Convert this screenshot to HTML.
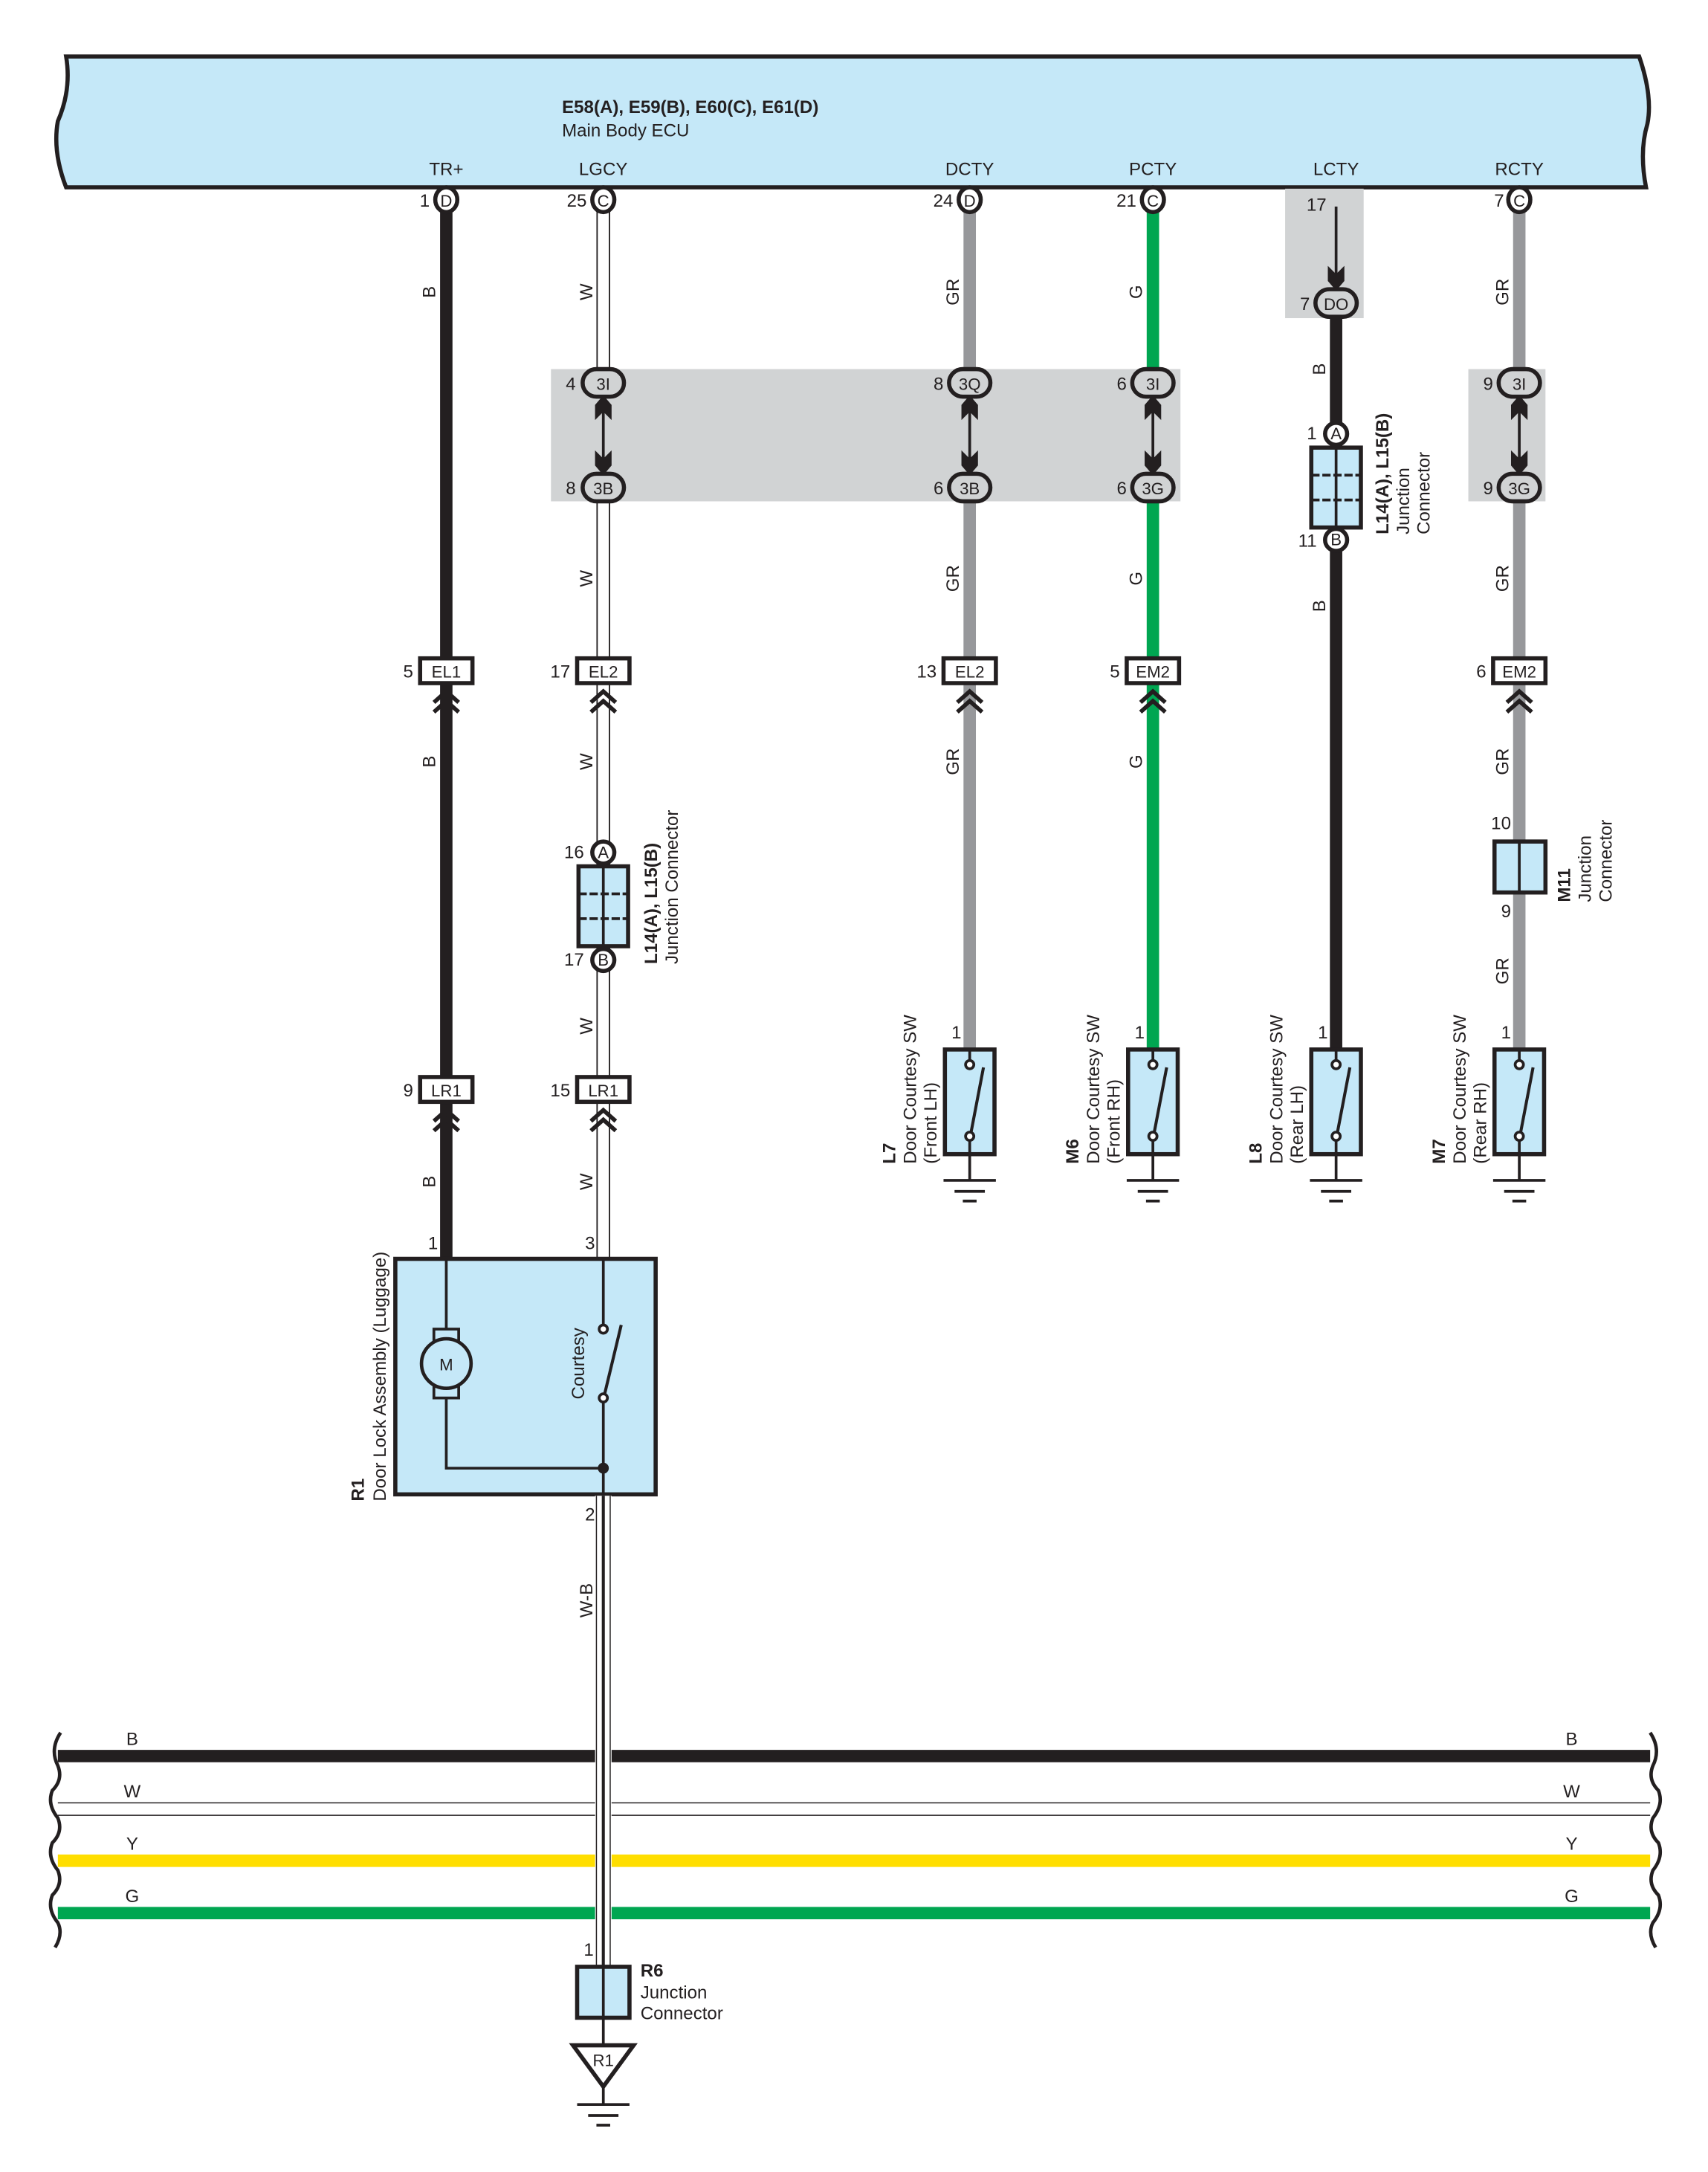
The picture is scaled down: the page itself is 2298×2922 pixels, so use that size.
<!DOCTYPE html>
<html><head><meta charset="utf-8"><style>
html,body{margin:0;padding:0;background:#fff}
svg{display:block}
text{font-family:"Liberation Sans Narrow","Liberation Sans",sans-serif;fill:#231f20}
</style></head><body>
<svg width="2298" height="2922" viewBox="0 0 1240 1577" preserveAspectRatio="none" xmlns="http://www.w3.org/2000/svg">
<defs>
<g id="chev" fill="none" stroke="#231f20" stroke-width="3"><polyline points="-9,7 0,-1 9,7"/><polyline points="-9,14 0,6 9,14"/></g>
<g id="dar"><line x1="0" y1="292" x2="0" y2="340" stroke="#231f20" stroke-width="2"/><polygon points="0,287 -6,294 -6,305 0,299 6,305 6,294" fill="#231f20"/><polygon points="0,345 -6,338 -6,327 0,333 6,327 6,338" fill="#231f20"/></g>
<g id="sw"><rect x="-18" y="0" width="36" height="76" fill="#c5e8f8" stroke="#231f20" stroke-width="3"/><line x1="0" y1="0" x2="0" y2="8" stroke="#231f20" stroke-width="2"/><circle cx="0" cy="11" r="3" fill="#fff" stroke="#231f20" stroke-width="2"/><circle cx="0" cy="63" r="3" fill="#fff" stroke="#231f20" stroke-width="2"/><line x1="1" y1="60" x2="10" y2="13" stroke="#231f20" stroke-width="2.2"/><line x1="0" y1="66" x2="0" y2="95" stroke="#231f20" stroke-width="2"/><line x1="-19" y1="95" x2="19" y2="95" stroke="#231f20" stroke-width="2"/><line x1="-11" y1="103" x2="11" y2="103" stroke="#231f20" stroke-width="2"/><line x1="-5" y1="110" x2="5" y2="110" stroke="#231f20" stroke-width="2"/></g>
<g id="jb"><rect x="-18" y="0" width="36" height="58" fill="#c5e8f8" stroke="#231f20" stroke-width="3"/><line x1="0" y1="0" x2="0" y2="58" stroke="#231f20" stroke-width="2"/><line x1="-18" y1="20" x2="18" y2="20" stroke="#231f20" stroke-width="2" stroke-dasharray="6,2"/><line x1="-18" y1="38" x2="18" y2="38" stroke="#231f20" stroke-width="2" stroke-dasharray="6,2"/></g>
</defs>

<!-- ECU -->
<path d="M48,41 L1190,41 Q1200,70 1196,90 Q1190,110 1195,136 L48,136 Q38,110 42,88 Q52,65 48,41 Z" fill="#c5e8f8" stroke="#231f20" stroke-width="3"/>
<text x="408" y="82" font-size="13" font-weight="bold">E58(A), E59(B), E60(C), E61(D)</text>
<text x="408" y="99" font-size="13">Main Body ECU</text>
<g font-size="13" text-anchor="middle">
<text x="324" y="127">TR+</text><text x="438" y="127">LGCY</text><text x="704" y="127">DCTY</text><text x="837" y="127">PCTY</text><text x="970" y="127">LCTY</text><text x="1103" y="127">RCTY</text>
</g>

<!-- gray areas -->
<rect x="400" y="268" width="457" height="96" fill="#d1d3d4"/>
<rect x="1066" y="268" width="56" height="96" fill="#d1d3d4"/>
<rect x="933" y="137" width="57" height="94" fill="#d1d3d4"/>

<!-- col1 black -->
<line x1="324" y1="150" x2="324" y2="914" stroke="#231f20" stroke-width="9"/>
<!-- col2 white -->
<g>
<line x1="438" y1="150" x2="438" y2="270" stroke="#231f20" stroke-width="10"/>
<line x1="438" y1="150" x2="438" y2="270" stroke="#fff" stroke-width="8"/>
<line x1="438" y1="362" x2="438" y2="914" stroke="#231f20" stroke-width="10"/>
<line x1="438" y1="362" x2="438" y2="914" stroke="#fff" stroke-width="8"/>
</g>
<!-- col3 GR -->
<line x1="704" y1="150" x2="704" y2="270" stroke="#97989b" stroke-width="9"/>
<line x1="704" y1="362" x2="704" y2="764" stroke="#97989b" stroke-width="9"/>
<!-- col4 G -->
<line x1="837" y1="150" x2="837" y2="270" stroke="#00a651" stroke-width="9"/>
<line x1="837" y1="362" x2="837" y2="764" stroke="#00a651" stroke-width="9"/>
<!-- col5 -->
<line x1="970" y1="150" x2="970" y2="200" stroke="#231f20" stroke-width="2"/>
<polygon points="970,211 964,204 964,193 970,199 976,193 976,204" fill="#231f20"/>
<line x1="970" y1="228" x2="970" y2="764" stroke="#231f20" stroke-width="9"/>
<!-- col6 -->
<line x1="1103" y1="150" x2="1103" y2="270" stroke="#97989b" stroke-width="9"/>
<line x1="1103" y1="362" x2="1103" y2="764" stroke="#97989b" stroke-width="9"/>

<!-- top pins -->
<g stroke="#231f20" stroke-width="3" fill="#fff">
<ellipse cx="324" cy="145" rx="8" ry="9"/><ellipse cx="438" cy="145" rx="8" ry="9"/><ellipse cx="704" cy="145" rx="8" ry="9"/><ellipse cx="837" cy="145" rx="8" ry="9"/><ellipse cx="1103" cy="145" rx="8" ry="9"/>
</g>
<g font-size="12" text-anchor="middle">
<text x="324" y="150">D</text><text x="438" y="150">C</text><text x="704" y="150">D</text><text x="837" y="150">C</text><text x="1103" y="150">C</text>
</g>
<g font-size="13" text-anchor="end">
<text x="312" y="150">1</text><text x="426" y="150">25</text><text x="692" y="150">24</text><text x="825" y="150">21</text><text x="1092" y="150">7</text><text x="963" y="153">17</text>
</g>

<!-- ovals -->
<g stroke="#231f20" stroke-width="3" fill="#d1d3d4">
<rect x="423" y="268" width="30" height="20" rx="10"/><rect x="423" y="344" width="30" height="20" rx="10"/>
<rect x="689" y="268" width="30" height="20" rx="10"/><rect x="689" y="344" width="30" height="20" rx="10"/>
<rect x="822" y="268" width="30" height="20" rx="10"/><rect x="822" y="344" width="30" height="20" rx="10"/>
<rect x="1088" y="268" width="30" height="20" rx="10"/><rect x="1088" y="344" width="30" height="20" rx="10"/>
<rect x="955" y="210" width="30" height="20" rx="10"/>
</g>
<use href="#dar" x="438"/><use href="#dar" x="704"/><use href="#dar" x="837"/><use href="#dar" x="1103"/>
<g font-size="12" text-anchor="middle">
<text x="438" y="283">3I</text><text x="438" y="359">3B</text><text x="704" y="283">3Q</text><text x="704" y="359">3B</text>
<text x="837" y="283">3I</text><text x="837" y="359">3G</text><text x="1103" y="283">3I</text><text x="1103" y="359">3G</text><text x="970" y="225">DO</text>
</g>
<g font-size="13" text-anchor="end">
<text x="418" y="283">4</text><text x="418" y="359">8</text><text x="685" y="283">8</text><text x="685" y="359">6</text>
<text x="818" y="283">6</text><text x="818" y="359">6</text><text x="1084" y="283">9</text><text x="1084" y="359">9</text><text x="951" y="225">7</text>
</g>

<!-- EL/EM boxes -->
<g stroke="#231f20" stroke-width="3" fill="#fff">
<rect x="305" y="478" width="38" height="18"/><rect x="419" y="478" width="38" height="18"/><rect x="685" y="478" width="38" height="18"/><rect x="818" y="478" width="38" height="18"/><rect x="1084" y="478" width="38" height="18"/>
<rect x="305" y="782" width="38" height="18"/><rect x="419" y="782" width="38" height="18"/>
</g>
<g font-size="12" text-anchor="middle">
<text x="324" y="492">EL1</text><text x="438" y="492">EL2</text><text x="704" y="492">EL2</text><text x="837" y="492">EM2</text><text x="1103" y="492">EM2</text>
<text x="324" y="796">LR1</text><text x="438" y="796">LR1</text>
</g>
<g font-size="13" text-anchor="end">
<text x="300" y="492">5</text><text x="414" y="492">17</text><text x="680" y="492">13</text><text x="813" y="492">5</text><text x="1079" y="492">6</text>
<text x="300" y="796">9</text><text x="414" y="796">15</text>
</g>
<use href="#chev" x="324" y="503"/><use href="#chev" x="438" y="503"/><use href="#chev" x="704" y="503"/><use href="#chev" x="837" y="503"/><use href="#chev" x="1103" y="503"/>
<use href="#chev" x="324" y="807"/><use href="#chev" x="438" y="807"/>

<!-- junction L14 col2 -->
<use href="#jb" x="438" y="629"/>
<g stroke="#231f20" stroke-width="3" fill="#fff"><circle cx="438" cy="619" r="8"/><circle cx="438" cy="697" r="8"/></g>
<text x="438" y="623" font-size="12" text-anchor="middle">A</text><text x="438" y="701" font-size="12" text-anchor="middle">B</text>
<text x="424" y="623" font-size="13" text-anchor="end">16</text><text x="424" y="701" font-size="13" text-anchor="end">17</text>
<g font-size="13">
<text transform="translate(477,700) rotate(-90)" font-weight="bold">L14(A), L15(B)</text>
<text transform="translate(492,700) rotate(-90)">Junction Connector</text>
</g>
<!-- junction col5 -->
<use href="#jb" x="970" y="325"/>
<g stroke="#231f20" stroke-width="3" fill="#fff"><circle cx="970" cy="315" r="8"/><circle cx="970" cy="392" r="8"/></g>
<text x="970" y="319" font-size="12" text-anchor="middle">A</text><text x="970" y="396" font-size="12" text-anchor="middle">B</text>
<text x="956" y="319" font-size="13" text-anchor="end">1</text><text x="956" y="397" font-size="13" text-anchor="end">11</text>
<g font-size="13">
<text transform="translate(1008,388) rotate(-90)" font-weight="bold">L14(A), L15(B)</text>
<text transform="translate(1023,388) rotate(-90)">Junction</text>
<text transform="translate(1038,388) rotate(-90)">Connector</text>
</g>
<!-- M11 -->
<rect x="1085" y="611" width="37" height="37" fill="#c5e8f8" stroke="#231f20" stroke-width="3"/>
<line x1="1103" y1="611" x2="1103" y2="648" stroke="#231f20" stroke-width="2"/>
<text x="1097" y="602" font-size="13" text-anchor="end">10</text><text x="1097" y="666" font-size="13" text-anchor="end">9</text>
<g font-size="13">
<text transform="translate(1140,655) rotate(-90)" font-weight="bold">M11</text>
<text transform="translate(1155,655) rotate(-90)">Junction</text>
<text transform="translate(1170,655) rotate(-90)">Connector</text>
</g>

<!-- switches -->
<use href="#sw" x="704" y="762"/><use href="#sw" x="837" y="762"/><use href="#sw" x="970" y="762"/><use href="#sw" x="1103" y="762"/>
<g font-size="13" text-anchor="end">
<text x="698" y="754">1</text><text x="831" y="754">1</text><text x="964" y="754">1</text><text x="1097" y="754">1</text>
</g>
<g font-size="13">
<text transform="translate(650,845) rotate(-90)" font-weight="bold">L7</text>
<text transform="translate(665,845) rotate(-90)">Door Courtesy SW</text>
<text transform="translate(680,845) rotate(-90)">(Front LH)</text>
<text transform="translate(783,845) rotate(-90)" font-weight="bold">M6</text>
<text transform="translate(798,845) rotate(-90)">Door Courtesy SW</text>
<text transform="translate(813,845) rotate(-90)">(Front RH)</text>
<text transform="translate(916,845) rotate(-90)" font-weight="bold">L8</text>
<text transform="translate(931,845) rotate(-90)">Door Courtesy SW</text>
<text transform="translate(946,845) rotate(-90)">(Rear LH)</text>
<text transform="translate(1049,845) rotate(-90)" font-weight="bold">M7</text>
<text transform="translate(1064,845) rotate(-90)">Door Courtesy SW</text>
<text transform="translate(1079,845) rotate(-90)">(Rear RH)</text>
</g>

<!-- wire labels -->
<g font-size="13" text-anchor="middle">
<text transform="translate(316,212) rotate(-90)">B</text><text transform="translate(316,553) rotate(-90)">B</text><text transform="translate(316,858) rotate(-90)">B</text>
<text transform="translate(430,212) rotate(-90)">W</text><text transform="translate(430,420) rotate(-90)">W</text><text transform="translate(430,553) rotate(-90)">W</text><text transform="translate(430,745) rotate(-90)">W</text><text transform="translate(430,858) rotate(-90)">W</text>
<text transform="translate(430,1162) rotate(-90)">W-B</text>
<text transform="translate(696,212) rotate(-90)">GR</text><text transform="translate(696,420) rotate(-90)">GR</text><text transform="translate(696,553) rotate(-90)">GR</text>
<text transform="translate(829,212) rotate(-90)">G</text><text transform="translate(829,420) rotate(-90)">G</text><text transform="translate(829,553) rotate(-90)">G</text>
<text transform="translate(962,268) rotate(-90)">B</text><text transform="translate(962,440) rotate(-90)">B</text>
<text transform="translate(1095,212) rotate(-90)">GR</text><text transform="translate(1095,420) rotate(-90)">GR</text><text transform="translate(1095,553) rotate(-90)">GR</text><text transform="translate(1095,705) rotate(-90)">GR</text>
</g>

<!-- R1 box -->
<rect x="287" y="914" width="189" height="171" fill="#c5e8f8" stroke="#231f20" stroke-width="3"/>
<g stroke="#231f20" stroke-width="2" fill="none">
<line x1="324" y1="914" x2="324" y2="965"/>
<rect x="315" y="965" width="18" height="10" fill="#c5e8f8"/>
<rect x="315" y="1005" width="18" height="10" fill="#c5e8f8"/>
<circle cx="324" cy="990" r="18" fill="#c5e8f8" stroke-width="2.5"/>
<polyline points="324,1015 324,1066 438,1066"/>
<line x1="438" y1="914" x2="438" y2="962"/>
<circle cx="438" cy="965" r="3" fill="#fff"/>
<circle cx="438" cy="1015" r="3" fill="#fff"/>
<line x1="439" y1="1012" x2="451" y2="962" stroke-width="2.2"/>
<line x1="438" y1="1018" x2="438" y2="1085"/>
</g>
<circle cx="438" cy="1066" r="4" fill="#231f20"/>
<text x="324" y="995" font-size="12" text-anchor="middle">M</text>
<text transform="translate(424,990) rotate(-90)" font-size="13" text-anchor="middle">Courtesy</text>
<g font-size="13">
<text transform="translate(264,1090) rotate(-90)" font-weight="bold">R1</text>
<text transform="translate(280,1090) rotate(-90)">Door Lock Assembly (Luggage)</text>
</g>
<text x="318" y="907" font-size="13" text-anchor="end">1</text>
<text x="432" y="907" font-size="13" text-anchor="end">3</text>
<text x="432" y="1104" font-size="13" text-anchor="end">2</text>

<!-- bus lines -->
<line x1="42" y1="1275" x2="1198" y2="1275" stroke="#231f20" stroke-width="9"/>
<line x1="42" y1="1309" x2="1198" y2="1309" stroke="#231f20" stroke-width="0.8"/>
<line x1="42" y1="1318" x2="1198" y2="1318" stroke="#231f20" stroke-width="0.8"/>
<line x1="42" y1="1351" x2="1198" y2="1351" stroke="#ffde00" stroke-width="9"/>
<line x1="42" y1="1389" x2="1198" y2="1389" stroke="#00a651" stroke-width="9"/>
<g fill="none" stroke="#231f20" stroke-width="2.5">
<path d="M44,1258 Q36,1270 42,1282 Q46,1292 38,1300 Q34,1310 42,1320 Q46,1330 38,1338 Q34,1348 42,1358 Q46,1368 38,1376 Q34,1386 42,1396 Q46,1404 40,1414"/>
<path d="M1198,1258 Q1206,1270 1200,1282 Q1196,1292 1204,1300 Q1208,1310 1200,1320 Q1196,1330 1204,1338 Q1208,1348 1200,1358 Q1196,1368 1204,1376 Q1208,1386 1200,1396 Q1196,1404 1202,1414"/>
</g>
<g font-size="13" text-anchor="middle">
<text x="96" y="1267">B</text><text x="96" y="1305">W</text><text x="96" y="1343">Y</text><text x="96" y="1381">G</text>
<text x="1141" y="1267">B</text><text x="1141" y="1305">W</text><text x="1141" y="1343">Y</text><text x="1141" y="1381">G</text>
</g>

<!-- W-B vertical -->
<line x1="438" y1="1086" x2="438" y2="1428" stroke="#fff" stroke-width="12"/>
<line x1="433" y1="1086" x2="433" y2="1428" stroke="#231f20" stroke-width="0.8"/>
<line x1="443" y1="1086" x2="443" y2="1428" stroke="#231f20" stroke-width="0.8"/>
<line x1="438" y1="1086" x2="438" y2="1428" stroke="#231f20" stroke-width="2.2"/>
<text x="431" y="1420" font-size="13" text-anchor="end">1</text>

<!-- R6 -->
<rect x="419" y="1428" width="38" height="37" fill="#c5e8f8" stroke="#231f20" stroke-width="3"/>
<line x1="438" y1="1428" x2="438" y2="1485" stroke="#231f20" stroke-width="2"/>
<text x="465" y="1435" font-size="13" font-weight="bold">R6</text>
<text x="465" y="1451" font-size="13">Junction</text>
<text x="465" y="1466" font-size="13">Connector</text>
<polygon points="416,1485 460,1485 438,1515" fill="#fff" stroke="#231f20" stroke-width="3"/>
<text x="438" y="1500" font-size="12" text-anchor="middle">R1</text>
<g stroke="#231f20" stroke-width="2">
<line x1="438" y1="1515" x2="438" y2="1528"/>
<line x1="419" y1="1528" x2="457" y2="1528"/>
<line x1="427" y1="1536" x2="449" y2="1536"/>
<line x1="433" y1="1543" x2="443" y2="1543"/>
</g>
</svg>
</body></html>
